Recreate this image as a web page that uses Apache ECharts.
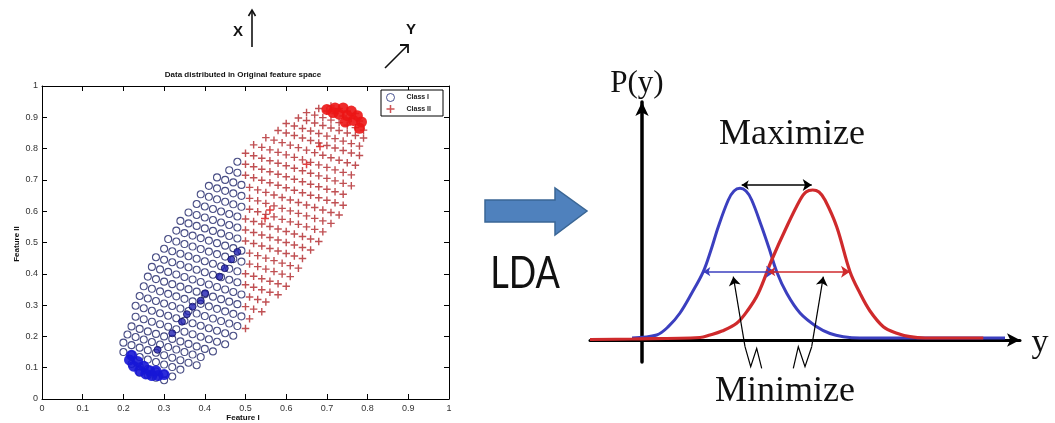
<!DOCTYPE html>
<html>
<head>
<meta charset="utf-8">
<script src="https://cdn.jsdelivr.net/npm/echarts@6/dist/echarts.min.js"></script>
<style>
  html, body { margin: 0; padding: 0; background: #fff; }
  #chart { width: 1055px; height: 423px; }
</style>
</head>
<body>
<div id="chart"></div>
<script>
// Tick labels shared by both axes of the feature-space plot
const tickLabels = ['0', '0.1', '0.2', '0.3', '0.4', '0.5', '0.6', '0.7', '0.8', '0.9', '1'];

// Class I samples (feature I, feature II), listed row by row
const classOne = [
  [0.24,0.084],[0.26,0.076],[0.28,0.068],[0.30,0.060],
  [0.22,0.112],[0.24,0.104],[0.26,0.096],[0.28,0.088],[0.30,0.080],[0.32,0.072],
  [0.20,0.150],[0.22,0.142],[0.24,0.134],[0.26,0.126],[0.28,0.118],[0.30,0.110],[0.32,0.102],[0.34,0.094],
  [0.20,0.180],[0.22,0.172],[0.24,0.164],[0.26,0.156],[0.28,0.148],[0.30,0.140],[0.32,0.132],[0.34,0.124],[0.36,0.116],[0.38,0.108],
  [0.21,0.206],[0.23,0.198],[0.25,0.190],[0.27,0.182],[0.29,0.174],[0.31,0.166],[0.33,0.158],[0.35,0.150],[0.37,0.142],[0.39,0.134],
  [0.22,0.232],[0.24,0.224],[0.26,0.216],[0.28,0.208],[0.30,0.200],[0.32,0.192],[0.34,0.184],[0.36,0.176],[0.38,0.168],[0.40,0.160],[0.42,0.152],
  [0.23,0.263],[0.25,0.255],[0.27,0.247],[0.29,0.239],[0.31,0.231],[0.33,0.223],[0.35,0.215],[0.37,0.207],[0.39,0.199],[0.41,0.191],[0.43,0.183],[0.45,0.175],
  [0.23,0.298],[0.25,0.290],[0.27,0.282],[0.29,0.274],[0.31,0.266],[0.33,0.258],[0.35,0.250],[0.37,0.242],[0.39,0.234],[0.41,0.226],[0.43,0.218],[0.45,0.210],[0.47,0.202],
  [0.24,0.329],[0.26,0.321],[0.28,0.313],[0.30,0.305],[0.32,0.297],[0.34,0.289],[0.36,0.281],[0.38,0.273],[0.40,0.265],[0.42,0.257],[0.44,0.249],[0.46,0.241],[0.48,0.233],
  [0.25,0.360],[0.27,0.352],[0.29,0.344],[0.31,0.336],[0.33,0.328],[0.35,0.320],[0.37,0.312],[0.39,0.304],[0.41,0.296],[0.43,0.288],[0.45,0.280],[0.47,0.272],[0.49,0.264],
  [0.26,0.391],[0.28,0.383],[0.30,0.375],[0.32,0.367],[0.34,0.359],[0.36,0.351],[0.38,0.343],[0.40,0.335],[0.42,0.327],[0.44,0.319],[0.46,0.311],[0.48,0.303],
  [0.27,0.422],[0.29,0.414],[0.31,0.406],[0.33,0.398],[0.35,0.390],[0.37,0.382],[0.39,0.374],[0.41,0.366],[0.43,0.358],[0.45,0.350],[0.47,0.342],[0.49,0.334],
  [0.28,0.453],[0.30,0.445],[0.32,0.437],[0.34,0.429],[0.36,0.421],[0.38,0.413],[0.40,0.405],[0.42,0.397],[0.44,0.389],[0.46,0.381],[0.48,0.373],
  [0.30,0.480],[0.32,0.472],[0.34,0.464],[0.36,0.456],[0.38,0.448],[0.40,0.440],[0.42,0.432],[0.44,0.424],[0.46,0.416],[0.48,0.408],
  [0.31,0.511],[0.33,0.503],[0.35,0.495],[0.37,0.487],[0.39,0.479],[0.41,0.471],[0.43,0.463],[0.45,0.455],[0.47,0.447],[0.49,0.439],
  [0.33,0.538],[0.35,0.530],[0.37,0.522],[0.39,0.514],[0.41,0.506],[0.43,0.498],[0.45,0.490],[0.47,0.482],[0.49,0.474],
  [0.34,0.569],[0.36,0.561],[0.38,0.553],[0.40,0.545],[0.42,0.537],[0.44,0.529],[0.46,0.521],[0.48,0.513],
  [0.36,0.596],[0.38,0.588],[0.40,0.580],[0.42,0.572],[0.44,0.564],[0.46,0.556],[0.48,0.548],
  [0.38,0.623],[0.40,0.615],[0.42,0.607],[0.44,0.599],[0.46,0.591],[0.48,0.583],
  [0.39,0.654],[0.41,0.646],[0.43,0.638],[0.45,0.630],[0.47,0.622],[0.49,0.614],
  [0.41,0.681],[0.43,0.673],[0.45,0.665],[0.47,0.657],[0.49,0.649],
  [0.43,0.708],[0.45,0.700],[0.47,0.692],[0.49,0.684],
  [0.46,0.731],[0.48,0.723],
  [0.48,0.758]
];

// Class II samples (feature I, feature II), listed row by row
const classTwo = [
  [0.50,0.225],
  [0.51,0.256],
  [0.50,0.295],[0.52,0.287],[0.54,0.279],
  [0.51,0.326],[0.53,0.318],[0.55,0.310],
  [0.50,0.365],[0.52,0.357],[0.54,0.349],[0.56,0.341],[0.58,0.333],
  [0.50,0.400],[0.52,0.392],[0.54,0.384],[0.56,0.376],[0.58,0.368],[0.60,0.360],
  [0.51,0.431],[0.53,0.423],[0.55,0.415],[0.57,0.407],[0.59,0.399],[0.61,0.391],
  [0.51,0.466],[0.53,0.458],[0.55,0.450],[0.57,0.442],[0.59,0.434],[0.61,0.426],[0.63,0.418],
  [0.50,0.505],[0.52,0.497],[0.54,0.489],[0.56,0.481],[0.58,0.473],[0.60,0.465],[0.62,0.457],[0.64,0.449],
  [0.50,0.540],[0.52,0.532],[0.54,0.524],[0.56,0.516],[0.58,0.508],[0.60,0.500],[0.62,0.492],[0.64,0.484],[0.66,0.476],
  [0.50,0.575],[0.52,0.567],[0.54,0.559],[0.56,0.551],[0.58,0.543],[0.60,0.535],[0.62,0.527],[0.64,0.519],[0.66,0.511],[0.68,0.503],
  [0.51,0.606],[0.53,0.598],[0.55,0.590],[0.57,0.582],[0.59,0.574],[0.61,0.566],[0.63,0.558],[0.65,0.550],[0.67,0.542],[0.69,0.534],
  [0.51,0.641],[0.53,0.633],[0.55,0.625],[0.57,0.617],[0.59,0.609],[0.61,0.601],[0.63,0.593],[0.65,0.585],[0.67,0.577],[0.69,0.569],[0.71,0.561],
  [0.51,0.676],[0.53,0.668],[0.55,0.660],[0.57,0.652],[0.59,0.644],[0.61,0.636],[0.63,0.628],[0.65,0.620],[0.67,0.612],[0.69,0.604],[0.71,0.596],[0.73,0.588],
  [0.50,0.715],[0.52,0.707],[0.54,0.699],[0.56,0.691],[0.58,0.683],[0.60,0.675],[0.62,0.667],[0.64,0.659],[0.66,0.651],[0.68,0.643],[0.70,0.635],[0.72,0.627],[0.74,0.619],
  [0.50,0.750],[0.52,0.742],[0.54,0.734],[0.56,0.726],[0.58,0.718],[0.60,0.710],[0.62,0.702],[0.64,0.694],[0.66,0.686],[0.68,0.678],[0.70,0.670],[0.72,0.662],[0.74,0.654],
  [0.50,0.785],[0.52,0.777],[0.54,0.769],[0.56,0.761],[0.58,0.753],[0.60,0.745],[0.62,0.737],[0.64,0.729],[0.66,0.721],[0.68,0.713],[0.70,0.705],[0.72,0.697],[0.74,0.689],[0.76,0.681],
  [0.52,0.812],[0.54,0.804],[0.56,0.796],[0.58,0.788],[0.60,0.780],[0.62,0.772],[0.64,0.764],[0.66,0.756],[0.68,0.748],[0.70,0.740],[0.72,0.732],[0.74,0.724],[0.76,0.716],
  [0.55,0.835],[0.57,0.827],[0.59,0.819],[0.61,0.811],[0.63,0.803],[0.65,0.795],[0.67,0.787],[0.69,0.779],[0.71,0.771],[0.73,0.763],[0.75,0.755],[0.77,0.747],
  [0.58,0.858],[0.60,0.850],[0.62,0.842],[0.64,0.834],[0.66,0.826],[0.68,0.818],[0.70,0.810],[0.72,0.802],[0.74,0.794],[0.76,0.786],[0.78,0.778],
  [0.60,0.880],[0.62,0.872],[0.64,0.864],[0.66,0.856],[0.68,0.848],[0.70,0.840],[0.72,0.832],[0.74,0.824],[0.76,0.816],[0.78,0.808],
  [0.63,0.898],[0.65,0.890],[0.67,0.882],[0.69,0.874],[0.71,0.866],[0.73,0.858],[0.75,0.850],[0.77,0.842],[0.79,0.834],
  [0.65,0.915],[0.67,0.907],[0.69,0.899],[0.71,0.891],[0.73,0.883],[0.75,0.875],[0.77,0.867],[0.79,0.859],
  [0.68,0.928],[0.70,0.920],[0.72,0.912],[0.74,0.904],[0.76,0.896],[0.78,0.888],
  [0.71,0.936],[0.73,0.928],[0.75,0.920],[0.77,0.912]
];

// Tightly packed samples at the two ends of the cloud
const classOneCore = [
  [0.215,0.125],[0.225,0.105],[0.24,0.09],[0.255,0.08],[0.27,0.075],[0.285,0.075],
  [0.235,0.12],[0.25,0.105],[0.265,0.09],[0.28,0.09],[0.22,0.14],[0.30,0.078]
];
const classTwoCore = [
  [0.70,0.925],[0.72,0.93],[0.74,0.93],[0.76,0.92],[0.775,0.905],[0.785,0.885],
  [0.73,0.91],[0.75,0.905],[0.765,0.89],[0.745,0.885],[0.715,0.915],[0.78,0.865]
];

// Overlapping samples that show up darker
const classOneOverlap = [
  [0.48,0.47],[0.465,0.446],[0.449,0.418],[0.436,0.391],[0.401,0.338],[0.39,0.314],
  [0.37,0.295],[0.356,0.271],[0.344,0.247],[0.32,0.21],[0.284,0.157]
];
const classTwoOverlap = [[0.56,0.604],[0.548,0.577],[0.683,0.807],[0.65,0.75]];

// Projected class densities P(y) against y
const blueDensity = [
  [-1.0,0.2],[1.47,0.5],[2.63,1.33],[3.8,2.7],[4.97,4.67],[6.13,6.83],[6.9,9.0],
  [7.63,11.33],[8.63,14.0],[9.2,14.9],[9.8,15.17],[10.4,14.9],[10.97,14.0],[11.97,11.33],
  [12.7,9.2],[13.47,6.83],[14.47,4.67],[15.8,2.7],[17.47,1.33],[18.8,0.65],[20.13,0.33],
  [21.8,0.2],[36.3,0.2]
];
const redDensity = [
  [-5.2,0.05],[-1.0,0.1],[5.8,0.25],[6.8,0.5],[8.0,0.9],[9.47,1.67],[10.6,3.0],[11.63,4.67],
  [12.97,8.0],[14.47,11.33],[15.8,14.0],[16.4,14.8],[17.07,15.0],[17.7,14.8],[18.3,14.0],
  [19.47,11.33],[20.8,6.83],[21.8,4.67],[22.8,2.9],[24.13,1.33],[25.4,0.7],[26.8,0.33],
  [28.3,0.2],[34.13,0.2]
];

// Annotation arrows on the density plot
const betweenClassArrow = [[9.97,15.5],[16.97,15.5]];
const blueSpreadArrow = [[6.13,6.83],[13.3,6.83]];
const redSpreadArrow = [[12.63,6.83],[20.8,6.83]];
const leftSquiggle = [[11.97,-2.83],[11.47,-0.83],[10.87,-2.67],[10.3,-0.67]];
const leftPointer = [[10.3,-0.67],[9.13,6.33]];
const rightSquiggle = [[15.13,-2.83],[15.63,-0.67],[16.3,-2.67],[16.97,-0.67]];
const rightPointer = [[16.97,-0.67],[18.13,6.33]];

const plusPath = 'path://M3.25,0H4.75V3.25H8V4.75H4.75V8H3.25V4.75H0V3.25H3.25Z';
const sans = 'Liberation Sans';
const serif = 'Liberation Serif';

const chart = echarts.init(document.getElementById('chart'), null, { renderer: 'canvas' });

const frameAxis = (pos, isX) => ({
  type: 'value', gridIndex: 0, position: pos, min: 0, max: 1, interval: 0.1,
  axisLine: { onZero: false, lineStyle: { color: '#000', width: 1 } },
  axisTick: { inside: true, length: 5, lineStyle: { color: '#000' } },
  axisLabel: (pos === 'bottom' || pos === 'left') ? {
    show: true, fontFamily: sans, fontSize: 9, color: '#333', margin: isX ? 5 : 4,
    formatter: v => tickLabels[Math.round(v * 10)]
  } : { show: false },
  splitLine: { show: false }
});

const text = (str, x, y, font, extra) => Object.assign({
  type: 'text', x: x, y: y, z: 10,
  style: { text: str, font: font, fill: '#111', align: 'center', verticalAlign: 'middle',
           textAlign: 'center', textVerticalAlign: 'middle' }
}, extra || {});

const arrowLines = (name, items, symbol, width) => ({
  name: name, type: 'lines', coordinateSystem: 'cartesian2d', xAxisIndex: 2, yAxisIndex: 2,
  silent: true, polyline: false, clip: false, z: 6,
  symbol: symbol, symbolSize: [7, 9],
  lineStyle: { width: width, opacity: 1, curveness: 0 },
  data: items
});

chart.setOption({
  backgroundColor: '#fff',
  animation: false,
  grid: [
    { left: 42, right: 606, top: 86, bottom: 24 },
    { left: 590, right: 35, top: 102, bottom: 61 }
  ],
  xAxis: [
    frameAxis('bottom', true),
    frameAxis('top', true),
    {
      type: 'value', gridIndex: 1, min: -5.2, max: 37.8,
      axisLine: { onZero: true, symbol: ['none', 'arrow'], symbolSize: [10, 13],
                  lineStyle: { color: '#000', width: 3 } },
      axisTick: { show: false }, axisLabel: { show: false }, splitLine: { show: false }
    }
  ],
  yAxis: [
    frameAxis('left', false),
    frameAxis('right', false),
    {
      type: 'value', gridIndex: 1, min: -2.2, max: 23.8,
      axisLine: { onZero: true, symbol: ['none', 'arrow'], symbolSize: [10, 14],
                  lineStyle: { color: '#000', width: 3.5 } },
      axisTick: { show: false }, axisLabel: { show: false }, splitLine: { show: false }
    }
  ],
  legend: {
    left: 381, top: 90, orient: 'vertical', selectedMode: false,
    padding: [3, 12, 3, 5], itemGap: 3, itemWidth: 8, itemHeight: 8,
    borderColor: '#000', borderWidth: 1, backgroundColor: '#fff', borderRadius: 0,
    textStyle: { fontFamily: sans, fontSize: 7, fontWeight: 'bold', color: '#222', padding: [0, 0, 0, 7] },
    data: [
      { name: 'Class I', icon: 'circle', itemStyle: { color: '#fff', borderColor: '#1e2a78', borderWidth: 1 } },
      { name: 'Class II', icon: plusPath, itemStyle: { color: '#c0282a', borderWidth: 0 } }
    ]
  },
  series: [
    {
      name: 'Class I', type: 'scatter', xAxisIndex: 0, yAxisIndex: 0, silent: true,
      symbol: 'circle', symbolSize: 7,
      itemStyle: { color: 'rgba(255,255,255,0)', borderColor: '#1b2266', borderWidth: 1.1 },
      data: classOne
    },
    {
      name: 'Class II', type: 'scatter', xAxisIndex: 0, yAxisIndex: 0, silent: true,
      symbol: plusPath, symbolSize: 7.5,
      itemStyle: { color: '#b02428' },
      data: classTwo
    },
    {
      name: 'Class I core', type: 'scatter', xAxisIndex: 0, yAxisIndex: 0, silent: true,
      symbol: 'circle', symbolSize: 11,
      itemStyle: { color: '#1616d6', opacity: 0.9 },
      data: classOneCore
    },
    {
      name: 'Class II core', type: 'scatter', xAxisIndex: 0, yAxisIndex: 0, silent: true,
      symbol: 'circle', symbolSize: 11,
      itemStyle: { color: '#ec1515', opacity: 0.9 },
      data: classTwoCore
    },
    {
      name: 'Class I overlap', type: 'scatter', xAxisIndex: 0, yAxisIndex: 0, silent: true,
      symbol: 'circle', symbolSize: 7,
      itemStyle: { color: '#2020b0', borderColor: '#101060', borderWidth: 1 },
      data: classOneOverlap
    },
    {
      name: 'Class II overlap', type: 'scatter', xAxisIndex: 0, yAxisIndex: 0, silent: true,
      symbol: plusPath, symbolSize: 8,
      itemStyle: { color: '#d81010' },
      data: classTwoOverlap
    },
    {
      name: 'P(y) class I', type: 'line', xAxisIndex: 2, yAxisIndex: 2, silent: true,
      showSymbol: false, smooth: 0.35, clip: false, z: 3,
      lineStyle: { color: '#3b3fbf', width: 3 },
      data: blueDensity
    },
    {
      name: 'P(y) class II', type: 'line', xAxisIndex: 2, yAxisIndex: 2, silent: true,
      showSymbol: false, smooth: 0.35, clip: false, z: 4,
      lineStyle: { color: '#cf2a2c', width: 3.2 },
      data: redDensity
    },
    arrowLines('spread', [
      { coords: betweenClassArrow, lineStyle: { color: '#000' } },
      { coords: blueSpreadArrow, lineStyle: { color: '#3b3fbf' } },
      { coords: redSpreadArrow, lineStyle: { color: '#cf2a2c' } }
    ], ['arrow', 'arrow'], 1.5),
    arrowLines('pointers', [
      { coords: leftPointer, lineStyle: { color: '#000' } },
      { coords: rightPointer, lineStyle: { color: '#000' } }
    ], ['none', 'arrow'], 1.2),
    {
      name: 'squiggles', type: 'lines', coordinateSystem: 'cartesian2d', xAxisIndex: 2, yAxisIndex: 2,
      silent: true, polyline: true, clip: false, z: 6,
      lineStyle: { width: 1.2, opacity: 1, curveness: 0, color: '#000' },
      data: [ { coords: leftSquiggle }, { coords: rightSquiggle } ]
    }
  ],
  graphic: [
    text('Data distributed in Original feature space', 243, 75, 'bold 8px ' + sans),
    text('Feature I', 243, 418, 'bold 8px ' + sans),
    text('Feature II', 17, 244, 'bold 8px ' + sans, { rotation: Math.PI / 2 }),
    text('X', 238, 32, 'bold 15px ' + sans),
    text('Y', 411, 30, 'bold 15px ' + sans),
    { type: 'polyline', z: 10, shape: { points: [[252, 47], [252, 10]] }, style: { stroke: '#111', lineWidth: 1.6, fill: null } },
    { type: 'polyline', z: 10, shape: { points: [[248.5, 16], [252, 10], [255.5, 16]] }, style: { stroke: '#111', lineWidth: 1.6, fill: null } },
    { type: 'polyline', z: 10, shape: { points: [[385, 68], [408, 45]] }, style: { stroke: '#111', lineWidth: 1.6, fill: null } },
    { type: 'polyline', z: 10, shape: { points: [[400, 45], [408, 45], [408, 53]] }, style: { stroke: '#111', lineWidth: 1.8, fill: null } },
    {
      type: 'polygon', z: 10,
      shape: { points: [[485, 200], [555, 200], [555, 188], [587, 211], [555, 235], [555, 222], [485, 222]] },
      style: { fill: '#4f81bd', stroke: '#3a6695', lineWidth: 1.5 }
    },
    text('LDA', 525, 274, '44px Lato', { scaleX: 0.82 }),
    text('P(y)', 637, 84, '31px ' + serif),
    text('y', 1040, 343, '34px ' + serif),
    text('Maximize', 792, 135, '36px ' + serif),
    text('Minimize', 785, 392, '36px ' + serif)
  ]
});
</script>
</body>
</html>
